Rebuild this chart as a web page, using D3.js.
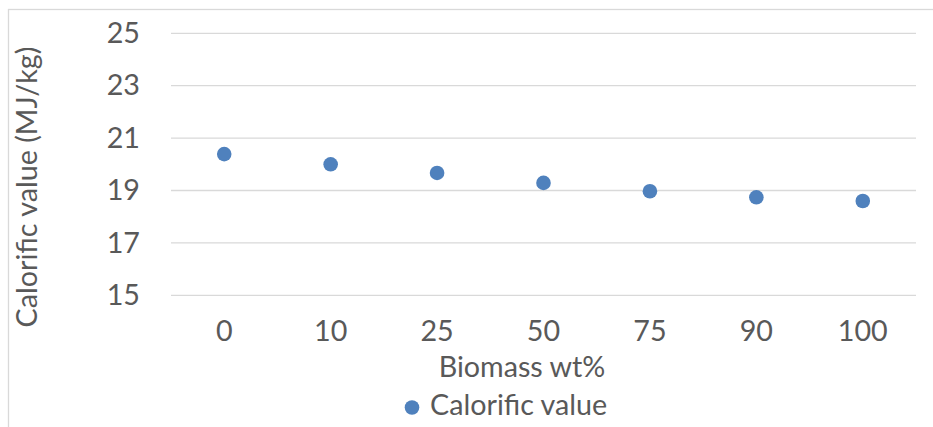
<!DOCTYPE html>
<html>
<head>
<meta charset="utf-8">
<script src="https://cdn.jsdelivr.net/npm/d3@7"></script>
<style>
  html, body { margin: 0; padding: 0; background: #fff; }
  svg { display: block; }
  text { font-family: Lato, "Open Sans", sans-serif; fill: #595959; }
</style>
</head>
<body>
<svg id="chart" width="933" height="427"></svg>
<script>
// Calorific value of the blends by biomass share
const categories = ["0", "10", "25", "50", "75", "90", "100"];
const calorificValues = [20.39, 20.0, 19.67, 19.29, 18.97, 18.74, 18.6];
const yTicks = [15, 17, 19, 21, 23, 25];

const seriesName = "Calorific value";
const xTitle = "Biomass wt%";
const yTitle = "Calorific value (MJ/kg)";

const W = 933, H = 427;
const plot = { left: 171, right: 916, top: 33.3, bottom: 295.3 };
const blue = "#4F81BD";
const fontSize = 28.7;

const svg = d3.select("#chart");

// outer chart frame
svg.append("rect")
  .attr("x", 8.5).attr("y", 9.5)
  .attr("width", W + 10).attr("height", H + 10)
  .attr("fill", "none").attr("stroke", "#d9d9d9").attr("stroke-width", 1.3);

const x = d3.scaleBand().domain(categories).range([plot.left, plot.right]);
const y = d3.scaleLinear().domain([15, 25]).range([plot.bottom, plot.top]);

// horizontal gridlines
svg.append("g")
  .selectAll("line")
  .data(yTicks)
  .join("line")
  .attr("x1", plot.left).attr("x2", plot.right)
  .attr("y1", d => y(d)).attr("y2", d => y(d))
  .attr("stroke", "#d9d9d9").attr("stroke-width", 1.3);

// y axis labels
const yAxis = svg.append("g")
  .attr("transform", `translate(${plot.left},0)`)
  .call(d3.axisLeft(y).tickValues(yTicks).tickSize(0).tickPadding(31));
yAxis.select(".domain").remove();
yAxis.selectAll("text")
  .attr("font-size", fontSize)
  .style("font-family", "Lato, 'Open Sans', sans-serif")
  .attr("fill", "#595959");

// x axis labels
const xAxis = svg.append("g")
  .attr("transform", `translate(0,${plot.bottom})`)
  .call(d3.axisBottom(x).tickSize(0).tickPadding(25));
xAxis.select(".domain").remove();
xAxis.selectAll("text")
  .attr("font-size", fontSize)
  .style("font-family", "Lato, 'Open Sans', sans-serif")
  .attr("fill", "#595959");

// data points
svg.append("g")
  .selectAll("circle")
  .data(categories.map((c, i) => ({ c, v: calorificValues[i] })))
  .join("circle")
  .attr("cx", d => x(d.c) + x.bandwidth() / 2)
  .attr("cy", d => y(d.v))
  .attr("r", 7.3)
  .attr("fill", blue);

// axis titles
svg.append("text")
  .attr("x", 522).attr("y", 377)
  .attr("text-anchor", "middle")
  .attr("font-size", fontSize)
  .text(xTitle);

svg.append("text")
  .attr("transform", "translate(37,187) rotate(-90)")
  .attr("text-anchor", "middle")
  .attr("font-size", fontSize)
  .text(yTitle);

// legend
svg.append("circle")
  .attr("cx", 412).attr("cy", 407.5).attr("r", 7.3).attr("fill", blue);
svg.append("text")
  .attr("x", 430).attr("y", 415)
  .attr("font-size", fontSize)
  .text(seriesName);
</script>
</body>
</html>
